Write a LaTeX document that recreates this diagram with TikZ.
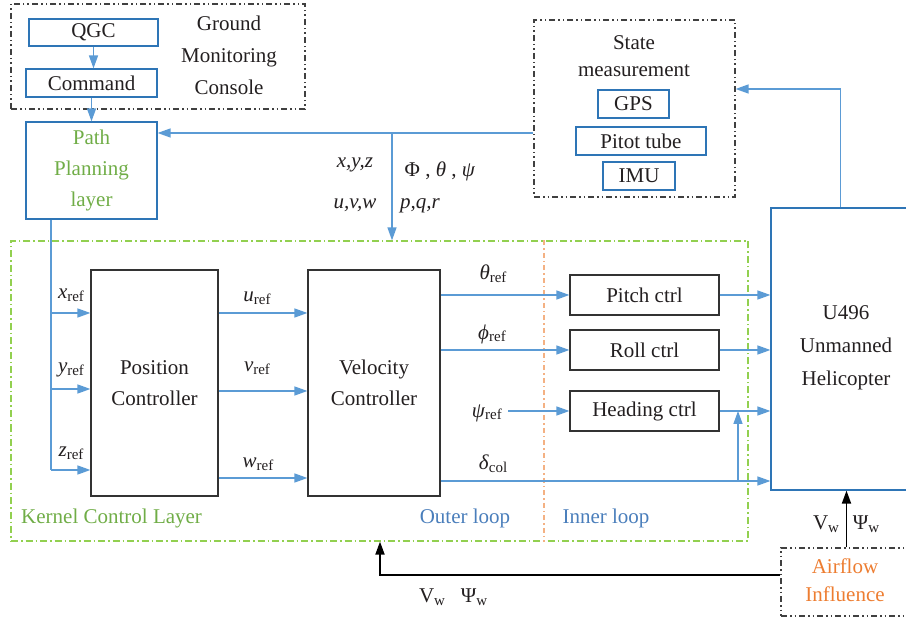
\documentclass[tikz,border=0pt]{standalone}
\usepackage{fontspec}
\setmainfont{Liberation Serif}
\usetikzlibrary{arrows.meta}
\definecolor{lblue}{HTML}{5B9BD5}
\definecolor{bblue}{HTML}{2E75B6}
\definecolor{kgreen}{HTML}{70AD47}
\definecolor{dgreen}{HTML}{92D050}
\definecolor{lorange}{HTML}{F4B183}
\definecolor{torange}{HTML}{ED7D31}
\definecolor{tblue}{HTML}{4A7EBB}
\definecolor{txt}{HTML}{231F20}
\newcommand{\lsub}[2]{\textit{#1}\raisebox{-0.3ex}{\fontsize{15}{15}\selectfont #2}}
\begin{document}
\begin{tikzpicture}[x=1pt,y=-1pt, font=\fontsize{21}{31}\selectfont, text=txt,
  bluebox/.style={draw=bblue, line width=1.2pt, inner sep=0pt},
  ctrlbox/.style={draw=black!80, line width=1.2pt, inner sep=0pt, fill=white},
  arr/.style={draw=lblue, line width=1.4pt, -{Triangle[length=13pt,width=9pt]}},
  ln/.style={draw=lblue, line width=1.4pt},
  karr/.style={draw=black, line width=1.8pt, -{Triangle[length=13pt,width=9pt]}},
  dashdot/.style={dash pattern=on 7pt off 3pt on 1.5pt off 3pt},
  dashdotdot/.style={dash pattern=on 6pt off 3pt on 1.5pt off 3pt on 1.5pt off 3pt},
  lbl/.style={inner sep=0pt}]
\useasboundingbox (0,0) rectangle (906,620);
\clip (0,0) rectangle (906,620);

% Ground monitoring console
\node[draw=black!75, line width=1.2pt, dashdotdot, minimum width=294pt, minimum height=105pt] (gmc) at (158,56.5) {};
\node[bluebox, minimum width=129pt, minimum height=27pt] (qgc) at (93.5,32.5) {QGC};
\node[bluebox, minimum width=131pt, minimum height=28pt] (cmd) at (91.5,83) {Command};
\node[align=center, lbl, font=\fontsize{21}{32}\selectfont] (gtxt) at (229,55) {Ground\\Monitoring\\Console};

% Path planning
\node[bluebox, minimum width=131pt, minimum height=97pt] (pp) at (91.5,170.5) {};
\node[align=center, lbl, text=kgreen] (pptxt) at (91.5,170) {Path\\Planning\\layer};

% State measurement
\node[draw=black!75, line width=1.2pt, dashdotdot, minimum width=201pt, minimum height=177pt] (sm) at (634.5,108.5) {};
\node[align=center, lbl, font=\fontsize{21}{27}\selectfont] (smtxt) at (634,56) {State\\measurement};
\node[bluebox, minimum width=71pt, minimum height=28pt] (gps) at (633.5,104) {GPS};
\node[bluebox, minimum width=130pt, minimum height=28pt] (pitot) at (641,141) {Pitot tube};
\node[bluebox, minimum width=72pt, minimum height=28pt] (imu) at (639,176) {IMU};

% Helicopter
\node[bluebox, minimum width=139pt, minimum height=282pt] (heli) at (840.5,349) {};
\node[align=center, lbl, font=\fontsize{21}{33}\selectfont] (helitxt) at (846,348) {U496\\Unmanned\\Helicopter};

% Kernel control layer
\node[draw=dgreen, line width=1.2pt, dashdot, minimum width=737pt, minimum height=300pt] (kernel) at (379.5,391) {};
\coordinate (sep) at (544,0);
\draw[draw=lorange, line width=1.2pt, dash pattern=on 5pt off 3pt on 1.5pt off 3pt] (kernel.north -| sep) -- (kernel.south -| sep);
\node[lbl, anchor=west, text=kgreen] (klbl) at (21,518) {Kernel Control Layer};
\node[lbl, text=tblue] (outer) at (465,518) {Outer loop};
\node[lbl, text=tblue] (inner) at (606,518) {Inner loop};

\node[ctrlbox, minimum width=127pt, minimum height=226pt, align=center] (pos) at (154.5,383) {Position\\Controller};
\node[ctrlbox, minimum width=132pt, minimum height=226pt, align=center] (vel) at (374,383) {Velocity\\Controller};
\node[ctrlbox, minimum width=149pt, minimum height=40pt] (pitch) at (644.5,295) {Pitch ctrl};
\node[ctrlbox, minimum width=149pt, minimum height=40pt] (roll) at (644.5,350) {Roll ctrl};
\node[ctrlbox, minimum width=149pt, minimum height=40pt] (head) at (644.5,411) {Heading ctrl};

% Airflow
\node[draw=black!75, line width=1.2pt, dashdotdot, minimum width=131pt, minimum height=68pt] (air) at (846.5,582) {};
\node[align=center, lbl, text=torange, font=\fontsize{21}{28}\selectfont] (airtxt) at (845,580) {Airflow\\Influence};

% Top connectors
\draw[arr] (qgc.south) -- (qgc.south |- cmd.north);
\draw[arr] (cmd.south) -- (cmd.south |- pp.north);
\coordinate (j) at (392,133);
\draw[arr] (sm.west |- j) -- (pp.east |- j);
\draw[arr] (j) -- (j |- kernel.north);
\coordinate (smin) at (735,89);
\draw[arr] (heli.north) |- (sm.east |- smin);

\node[lbl] (xyz) at (355,165) {\textit{x,y,z}};
\node[lbl] (uvw) at (355,205) {\textit{u,v,w}};
\node[lbl] (ptp) at (440,171) {Φ , \textit{θ} , \textit{ψ}};
\node[lbl] (pqr) at (420,206) {\textit{p,q,r}};

% Position inputs
\coordinate (pv) at (51,219);
\coordinate (bx) at (51,313);
\coordinate (by) at (51,389);
\coordinate (bz) at (51,470);
\draw[ln] (pp.south -| pv) -- (bz);
\draw[arr] (bx) -- (pos.west |- bx);
\draw[arr] (by) -- (pos.west |- by);
\draw[arr] (bz) -- (pos.west |- bz);
\node[lbl] (xref) at (71,295) {\lsub{x}{ref}};
\node[lbl] (yref) at (71,370) {\lsub{y}{ref}};
\node[lbl] (zref) at (71,453) {\lsub{z}{ref}};

% Position -> velocity
\coordinate (ou) at (0,313);
\coordinate (ov) at (0,391);
\coordinate (ow) at (0,478);
\draw[arr] (pos.east |- ou) -- (vel.west |- ou);
\draw[arr] (pos.east |- ov) -- (vel.west |- ov);
\draw[arr] (pos.east |- ow) -- (vel.west |- ow);
\node[lbl] (uref) at (257,298) {\lsub{u}{ref}};
\node[lbl] (vref) at (257,368) {\lsub{v}{ref}};
\node[lbl] (wref) at (258,464) {\lsub{w}{ref}};

% Velocity outputs
\draw[arr] (vel.east |- pitch.west) -- (pitch.west);
\draw[arr] (vel.east |- roll.west) -- (roll.west);
\coordinate (psis) at (508,411);
\draw[arr] (psis) -- (head.west);
\node[lbl] (thref) at (493,274) {\lsub{θ}{ref}};
\node[lbl] (phref) at (492,334) {\lsub{ϕ}{ref}};
\node[lbl, anchor=east] (psref) at (502,413) {\lsub{ψ}{ref}};
\node[lbl] (dcol) at (493,464) {\lsub{δ}{col}};
\coordinate (dl) at (0,481);
\coordinate (dj) at (738,481);
\draw[arr] (vel.east |- dl) -- (heli.west |- dl);
\draw[arr] (dj) -- (dj |- head.east);

% Inner loop -> helicopter
\draw[arr] (pitch.east) -- (heli.west |- pitch.east);
\draw[arr] (roll.east) -- (heli.west |- roll.east);
\draw[arr] (head.east) -- (heli.west |- head.east);

% Airflow
\draw[karr] (air.north) -- (air.north |- heli.south);
\node[lbl] (vw1) at (826,524) {V\raisebox{-0.3ex}{\fontsize{15}{15}\selectfont w}};
\node[lbl] (pw1) at (866,524) {Ψ\raisebox{-0.3ex}{\fontsize{15}{15}\selectfont w}};
\coordinate (kb) at (380,575);
\draw[karr] (air.west |- kb) -| (kernel.south -| kb);
\node[lbl] (vw2) at (432,597) {V\raisebox{-0.3ex}{\fontsize{15}{15}\selectfont w}};
\node[lbl] (pw2) at (474,597) {Ψ\raisebox{-0.3ex}{\fontsize{15}{15}\selectfont w}};
\end{tikzpicture}
\end{document}
